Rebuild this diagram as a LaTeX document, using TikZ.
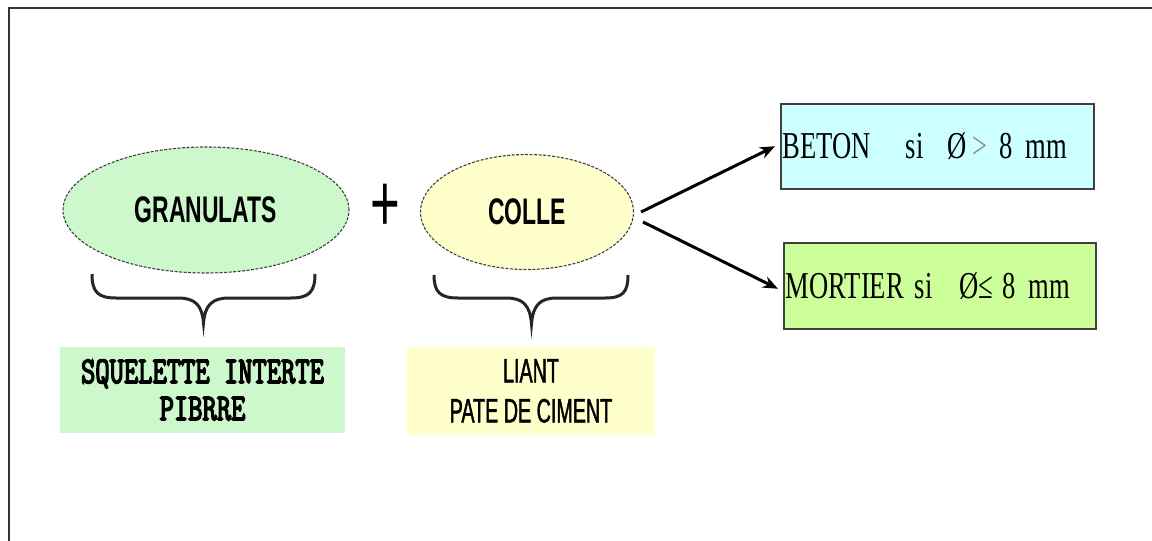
\documentclass[tikz,border=0pt]{standalone}
\usepackage{fontspec}
\setmainfont{Liberation Serif}
\newfontfamily\condsans[FakeStretch=0.62]{Liberation Sans}
\newfontfamily\narrowsans[FakeStretch=0.58, FakeBold=1.2]{Liberation Sans}
\newfontfamily\condserif[FakeStretch=0.70]{Liberation Serif}
\newfontfamily\condmono[FakeStretch=0.73, FakeBold=3.5]{Latin Modern Mono}
\usepackage{tikz}
\usetikzlibrary{shapes.geometric, arrows.meta, positioning}
\definecolor{vertclair}{RGB}{204,248,204}
\definecolor{jauneclair}{RGB}{255,255,204}
\definecolor{cyanclair}{RGB}{204,255,255}
\definecolor{vertpomme}{RGB}{204,255,153}
\tikzstyle{composant} = [ellipse, inner sep=0pt, draw=black!75, dash pattern=on 3pt off 1.5pt, line width=1.1pt, font=\condsans\bfseries\fontsize{37}{37}\selectfont]
\tikzstyle{legende} = [rectangle, inner sep=0pt, align=center, text centered]
\tikzstyle{resultat} = [rectangle, draw=black!75, line width=1.5pt, inner xsep=2pt, inner ysep=0pt, align=left, font=\condserif\fontsize{38}{38}\selectfont]
\tikzstyle{accolade} = [line width=3pt, black!85]
\tikzstyle{arrow} = [line width=3pt, -{Stealth[length=15pt,width=12pt]}]

\begin{document}
\begin{tikzpicture}[x=1pt, y=1pt]

        \fill[white] (0,0) rectangle (1152,-541);
        \useasboundingbox (0,0) rectangle (1152,-541);

        % Cadre
        \draw[line width=2pt, black!80] (9,-541) |- (1152,-8);

        % Constituants
        \node (granulats) [composant, fill=vertclair, minimum width=286pt, minimum height=126pt] at (206,-210) {GRANULATS};
        \node (colle) [composant, fill=jauneclair, minimum width=213pt, minimum height=115pt] at (527,-212) {COLLE};
        \node (plus) at (385.5,-207.5) {\condsans\fontsize{82}{82}\selectfont +};

        % Accolades
        \draw [accolade] (92,-274) .. controls (92,-292) and (98,-298) .. (116,-298) -- (178,-298)
            .. controls (195,-298) and (202,-305) .. (203.5,-323) .. controls (205,-305) and (212,-298) .. (229,-298)
            -- (291,-298) .. controls (309,-298) and (315,-292) .. (315,-274);
        \draw [accolade] (434,-275) .. controls (434,-292) and (440,-298) .. (458,-298) -- (506,-298)
            .. controls (523,-298) and (530,-305) .. (531.5,-324) .. controls (533,-305) and (540,-298) .. (557,-298)
            -- (605,-298) .. controls (623,-298) and (628,-292) .. (628,-275);

        % Legendes
        \node (squelette) [legende, fill=vertclair, minimum width=285pt, minimum height=86pt,
            font=\condmono\fontsize{38}{37}\selectfont] at (202.5,-390) {SQUELETTE INTERTE\\PIBRRE};
        \node (liant) [legende, fill=jauneclair, minimum width=248pt, minimum height=88pt,
            font=\narrowsans\fontsize{34}{40}\selectfont] at (531,-391) {LIANT\\PATE DE CIMENT};

        % Resultats
        \node (beton) [resultat, fill=cyanclair, text width=309pt, minimum height=85pt, anchor=north west] at (780,-103)
            {BETON\hspace{35pt}si\hspace{24pt}Ø\hspace{6pt}{\color{black!45}>}\hspace{12pt}8 mm};
        \node (mortier) [resultat, fill=vertpomme, text width=308pt, minimum height=86pt, anchor=north west] at (783,-242)
            {MORTIER\hspace{11pt}si\hspace{27pt}Ø≤\hspace{9pt}8 mm};

        % Fleches
        \draw [arrow] ([xshift=7pt]colle.east) -- ([xshift=-5pt]beton.west);
        \draw [arrow] ([xshift=9pt,yshift=-10pt]colle.east) -- ([xshift=-5pt,yshift=-3pt]mortier.west);

    \end{tikzpicture}
\end{document}
